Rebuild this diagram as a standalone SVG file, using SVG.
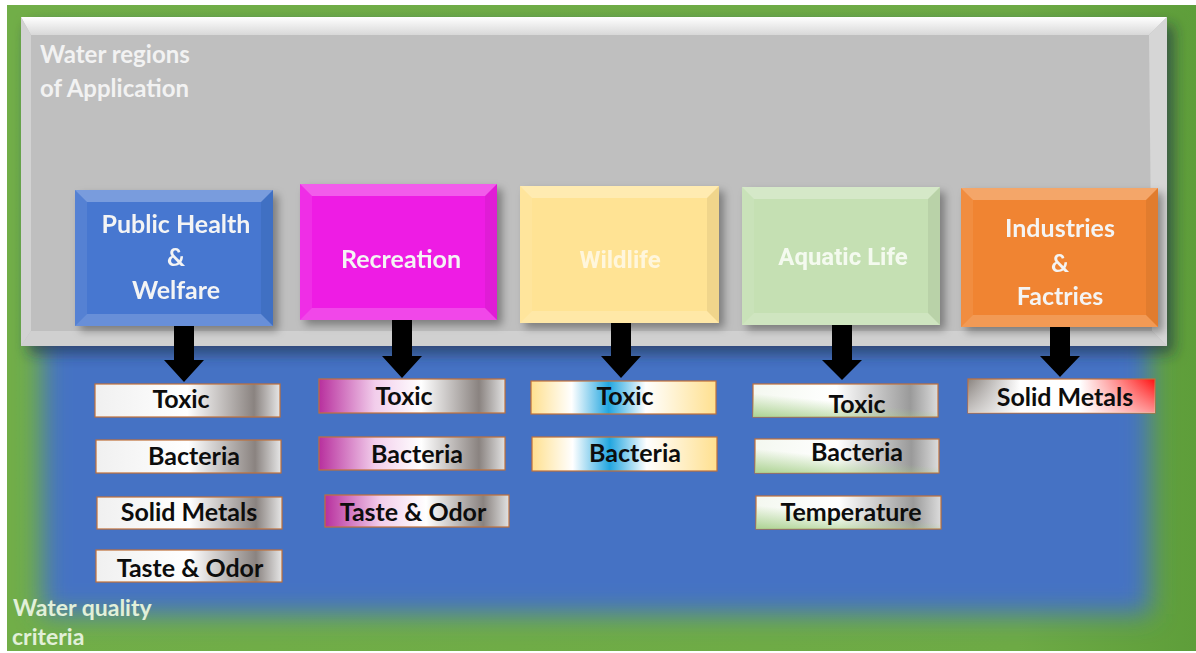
<svg xmlns="http://www.w3.org/2000/svg" width="1196" height="653" viewBox="0 0 1196 653">
<defs>
  <style>
    .lbl{font-family:Lato,"Open Sans","Liberation Sans",sans-serif;font-weight:700;}
    .nodeTxt{font-size:25px;fill:#F4F4F4;text-anchor:middle;}
    .rob{font-family:Roboto,"Liberation Sans",sans-serif;font-weight:700;font-size:24px;text-anchor:middle;}
    .crit{font-size:25px;fill:#0d0d0d;text-anchor:middle;}
    .cbox{stroke:#C0703A;stroke-width:1.2;}
    .arrow{fill:#000;}
    .bevT{fill:#fff;opacity:.28;}
    .bevB{fill:#fff;opacity:.18;}
    .bevL{fill:#fff;opacity:.08;}
    .bevR{fill:#000;opacity:.06;}
  </style>
  <linearGradient id="bgGreen" x1="0" y1="0" x2="1" y2="0">
    <stop offset="0" stop-color="#71AE48"/>
    <stop offset="0.85" stop-color="#6DAA45"/>
    <stop offset="1" stop-color="#5E9E3A"/>
  </linearGradient>
  <filter id="blurBlue" x="-10%" y="-10%" width="120%" height="120%">
    <feGaussianBlur stdDeviation="13"/>
  </filter>
  <filter id="shadowBig" x="-5%" y="-5%" width="112%" height="120%">
    <feDropShadow dx="7" dy="8" stdDeviation="7" flood-color="#1a2a40" flood-opacity="0.6"/>
  </filter>
  <filter id="shadowSm" x="-10%" y="-10%" width="125%" height="125%">
    <feDropShadow dx="5" dy="5" stdDeviation="4" flood-color="#000" flood-opacity="0.35"/>
  </filter>
  <linearGradient id="grayTop" x1="0" y1="0" x2="0" y2="1">
    <stop offset="0" stop-color="#FFFFFF"/>
    <stop offset="1" stop-color="#D8D8D8"/>
  </linearGradient>
  <linearGradient id="gChrome" x1="0" y1="0" x2="1" y2="0">
    <stop offset="0" stop-color="#F0F0F0"/>
    <stop offset="0.5" stop-color="#FFFFFF"/>
    <stop offset="0.86" stop-color="#8A8380"/>
    <stop offset="1" stop-color="#E6E6E6"/>
  </linearGradient>
  <linearGradient id="gMag" x1="0" y1="0" x2="1" y2="0">
    <stop offset="0" stop-color="#B8309E"/>
    <stop offset="0.3" stop-color="#F2CDEB"/>
    <stop offset="0.55" stop-color="#FFFFFF"/>
    <stop offset="0.86" stop-color="#8A8380"/>
    <stop offset="1" stop-color="#E2E2E2"/>
  </linearGradient>
  <linearGradient id="gYel" x1="0" y1="0" x2="1" y2="0">
    <stop offset="0" stop-color="#FFE08F"/>
    <stop offset="0.22" stop-color="#FFFFFF"/>
    <stop offset="0.42" stop-color="#22A6E0"/>
    <stop offset="0.62" stop-color="#FFFFFF"/>
    <stop offset="1" stop-color="#FFE08F"/>
  </linearGradient>
  <linearGradient id="gGrn" x1="0" y1="0" x2="1" y2="0">
    <stop offset="0" stop-color="#F4F8F0"/>
    <stop offset="0.45" stop-color="#FFFFFF"/>
    <stop offset="0.85" stop-color="#9A9A9A"/>
    <stop offset="1" stop-color="#DCDCDC"/>
  </linearGradient>
  <linearGradient id="gGrnV" x1="0" y1="1" x2="0.55" y2="0">
    <stop offset="0" stop-color="#A9D18E" stop-opacity="0.95"/>
    <stop offset="0.55" stop-color="#A9D18E" stop-opacity="0"/>
  </linearGradient>
  <linearGradient id="gRed" x1="0" y1="0" x2="1" y2="0">
    <stop offset="0" stop-color="#8A8480"/>
    <stop offset="0.28" stop-color="#FFFFFF"/>
    <stop offset="0.6" stop-color="#FFFFFF"/>
    <stop offset="1" stop-color="#FF1010"/>
  </linearGradient>
  <linearGradient id="gRedV" x1="0" y1="0" x2="0" y2="1">
    <stop offset="0" stop-color="#FFFFFF" stop-opacity="0"/>
    <stop offset="1" stop-color="#FFFFFF" stop-opacity="0.55"/>
  </linearGradient>
</defs>

<!-- background -->
<rect x="0" y="0" width="1196" height="653" fill="#FFFFFF"/>
<rect x="7" y="5" width="1189" height="646" fill="url(#bgGreen)"/>
<rect x="42" y="40" width="1108" height="574" fill="#4472C4" filter="url(#blurBlue)"/>

<!-- gray container -->
<g id="container">
  <rect x="21" y="17" width="1146" height="329" fill="#BFBFBF" filter="url(#shadowBig)"/>
  <polygon points="21,17 1167,17 1149,35 31,35" fill="url(#grayTop)"/>
  <polygon points="21,17 31,35 31,331 21,346" fill="#D2D2D2"/>
  <polygon points="1167,17 1167,346 1152,331 1149,35" fill="#D6D6D6"/>
  <polygon points="21,346 1167,346 1152,331 31,331" fill="#D0D0D0"/>
  <text class="lbl" x="40" y="63" font-size="24" fill="#F2F2F2">Water regions</text>
  <text class="lbl" x="40" y="97" font-size="24" fill="#F2F2F2">of Application</text>
</g>

<!-- connectors -->
<g id="connectors">
  <path class="arrow" d="M174,326 H194 V360 H204 L184,382 L164,360 H174 Z"/>
  <path class="arrow" d="M392,320 H412 V356 H422 L402,378 L382,356 H392 Z"/>
  <path class="arrow" d="M611,323 H631 V356 H641 L621,378 L601,356 H611 Z"/>
  <path class="arrow" d="M832,325 H852 V360 H862 L842,380 L822,360 H832 Z"/>
  <path class="arrow" d="M1050,327 H1070 V356 H1080 L1060,377 L1040,356 H1050 Z"/>
</g>

<!-- top nodes -->
<g id="node-public-health" filter="url(#shadowSm)">
  <rect x="75" y="190" width="198" height="136" fill="#4677D0"/>
  <polygon class="bevT" points="75,190 273,190 261,202 87,202"/>
  <polygon class="bevB" points="75,326 273,326 261,314 87,314"/>
  <polygon class="bevL" points="75,190 87,202 87,314 75,326"/>
  <polygon class="bevR" points="273,190 261,202 261,314 273,326"/>
  <text class="lbl nodeTxt" x="176" y="233">Public Health</text>
  <text class="lbl nodeTxt" x="176" y="266">&amp;</text>
  <text class="lbl nodeTxt" x="176" y="299">Welfare</text>
</g>
<g id="node-recreation" filter="url(#shadowSm)">
  <rect x="300" y="184" width="197" height="136" fill="#EE1EE4"/>
  <polygon class="bevT" points="300,184 497,184 485,196 312,196"/>
  <polygon class="bevB" points="300,320 497,320 485,308 312,308"/>
  <polygon class="bevL" points="300,184 312,196 312,308 300,320"/>
  <polygon class="bevR" points="497,184 485,196 485,308 497,320"/>
  <text class="lbl nodeTxt" x="401" y="268">Recreation</text>
</g>
<g id="node-wildlife" filter="url(#shadowSm)">
  <rect x="520" y="186" width="199" height="137" fill="#FFE394"/>
  <polygon class="bevT" points="520,186 719,186 707,198 532,198"/>
  <polygon class="bevB" points="520,323 719,323 707,311 532,311"/>
  <polygon class="bevL" points="520,186 532,198 532,311 520,323"/>
  <polygon class="bevR" points="719,186 707,198 707,311 719,323"/>
  <text class="rob" x="620" y="268" fill="#FFF6DC">Wildlife</text>
</g>
<g id="node-aquatic" filter="url(#shadowSm)">
  <rect x="742" y="187" width="198" height="138" fill="#C5E0B3"/>
  <polygon class="bevT" points="742,187 940,187 928,199 754,199"/>
  <polygon class="bevB" points="742,325 940,325 928,313 754,313"/>
  <polygon class="bevL" points="742,187 754,199 754,313 742,325"/>
  <polygon class="bevR" points="940,187 928,199 928,313 940,325"/>
  <text class="rob" x="843" y="265" fill="#F4FAEF">Aquatic Life</text>
</g>
<g id="node-industries" filter="url(#shadowSm)">
  <rect x="961" y="188" width="197" height="139" fill="#F08430"/>
  <polygon class="bevT" points="961,188 1158,188 1146,200 973,200"/>
  <polygon class="bevB" points="961,327 1158,327 1146,315 973,315"/>
  <polygon class="bevL" points="961,188 973,200 973,315 961,327"/>
  <polygon class="bevR" points="1158,188 1146,200 1146,315 1158,327"/>
  <text class="lbl nodeTxt" x="1060" y="237">Industries</text>
  <text class="lbl nodeTxt" x="1060" y="272">&amp;</text>
  <text class="lbl nodeTxt" x="1060" y="305">Factries</text>
</g>

<!-- criteria: Public Health -->
<g id="c1-toxic"><rect class="cbox" x="95" y="384" width="185" height="33" fill="url(#gChrome)"/><text class="lbl crit" x="181" y="408">Toxic</text></g>
<g id="c1-bacteria"><rect class="cbox" x="96" y="440" width="185" height="33" fill="url(#gChrome)"/><text class="lbl crit" x="194" y="465">Bacteria</text></g>
<g id="c1-solid"><rect class="cbox" x="97" y="497" width="185" height="32" fill="url(#gChrome)"/><text class="lbl crit" x="189" y="521">Solid Metals</text></g>
<g id="c1-taste"><rect class="cbox" x="96" y="550" width="186" height="32" fill="url(#gChrome)"/><text class="lbl crit" x="190" y="577">Taste &amp; Odor</text></g>

<!-- criteria: Recreation -->
<g id="c2-toxic"><rect class="cbox" x="319" y="379" width="186" height="34" fill="url(#gMag)"/><text class="lbl crit" x="404" y="405">Toxic</text></g>
<g id="c2-bacteria"><rect class="cbox" x="319" y="437" width="186" height="33" fill="url(#gMag)"/><text class="lbl crit" x="417" y="463">Bacteria</text></g>
<g id="c2-taste"><rect class="cbox" x="325" y="495" width="184" height="32" fill="url(#gMag)"/><text class="lbl crit" x="413" y="521">Taste &amp; Odor</text></g>

<!-- criteria: Wildlife -->
<g id="c3-toxic"><rect class="cbox" x="531" y="381" width="185" height="33" fill="url(#gYel)"/><text class="lbl crit" x="625" y="405">Toxic</text></g>
<g id="c3-bacteria"><rect class="cbox" x="532" y="437" width="185" height="34" fill="url(#gYel)"/><text class="lbl crit" x="635" y="462">Bacteria</text></g>

<!-- criteria: Aquatic Life -->
<g id="c4-toxic"><rect class="cbox" x="753" y="384" width="185" height="33" fill="url(#gGrn)"/><rect x="753" y="384" width="185" height="33" fill="url(#gGrnV)"/><text class="lbl crit" x="857" y="413">Toxic</text></g>
<g id="c4-bacteria"><rect class="cbox" x="755" y="439" width="184" height="34" fill="url(#gGrn)"/><rect x="755" y="439" width="184" height="34" fill="url(#gGrnV)"/><text class="lbl crit" x="857" y="461">Bacteria</text></g>
<g id="c4-temp"><rect class="cbox" x="756" y="496" width="185" height="33" fill="url(#gGrn)"/><rect x="756" y="496" width="185" height="33" fill="url(#gGrnV)"/><text class="lbl crit" x="851" y="521">Temperature</text></g>

<!-- criteria: Industries -->
<g id="c5-solid"><rect class="cbox" x="968" y="379" width="187" height="34" fill="url(#gRed)"/><rect x="968" y="379" width="187" height="34" fill="url(#gRedV)"/><text class="lbl crit" x="1065" y="406">Solid Metals</text></g>

<!-- bottom label -->
<g id="label-criteria">
  <text class="lbl" x="13" y="616" font-size="23" fill="#E2F0D9">Water quality</text>
  <text class="lbl" x="12" y="645" font-size="23" fill="#E2F0D9">criteria</text>
</g>
</svg>
